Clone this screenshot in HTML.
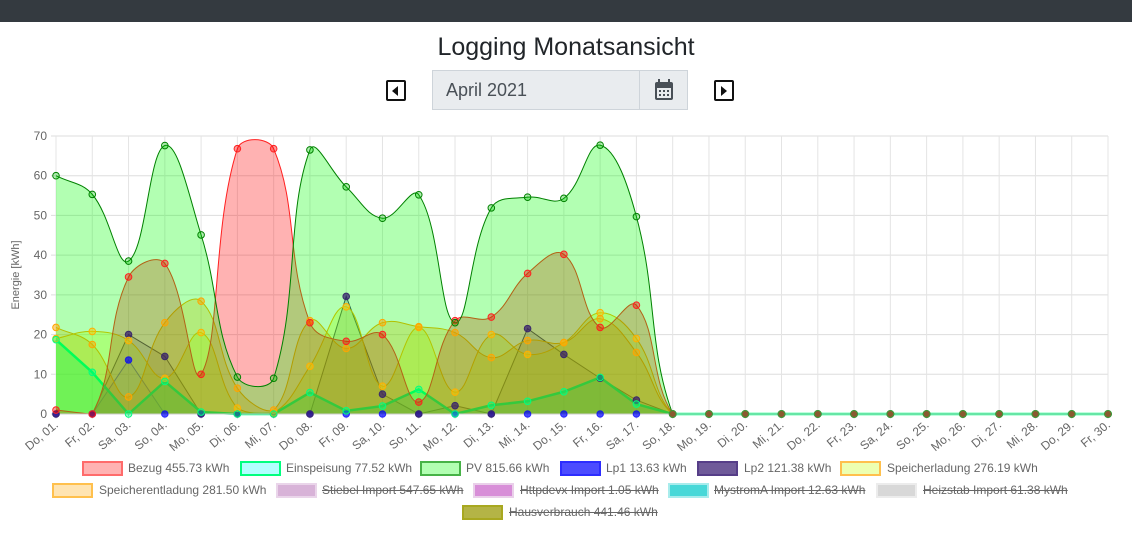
<!DOCTYPE html>
<html><head><meta charset="utf-8"><style>
body{margin:0;width:1132px;height:554px;background:#fff;font-family:"Liberation Sans",sans-serif;position:relative;overflow:hidden}
.top{position:absolute;left:0;top:0;width:1132px;height:22px;background:#343a40}
h1{position:absolute;left:0;width:1132px;top:33px;margin:0;text-align:center;font-size:25px;font-weight:500;color:#212529}
.inp{position:absolute;left:432px;top:70px;height:40px;background:#e9ecef;border:1px solid #ced4da;font-size:18px;color:#495057;line-height:38px;padding-left:13px;box-sizing:border-box;width:208px}
.cal{position:absolute;left:639px;top:70px;width:49px;height:40px;background:#e9ecef;border:1px solid #ced4da;box-sizing:border-box}
.btn{position:absolute;top:80px;width:16px;height:17px;border:2px solid #111;border-radius:2px}
.leg{position:absolute;font-size:12px;color:#666;white-space:nowrap;height:14px;line-height:14px}
.leg i{position:absolute;left:0;top:0;width:37px;height:11px;border:2px solid}
.leg span{position:absolute;top:0}
.s span{text-decoration:line-through}
</style></head><body>
<div class="top"></div>
<h1>Logging Monatsansicht</h1>
<div class="btn" style="left:386px"><div style="position:absolute;left:4px;top:4px;border-right:6px solid #111;border-top:5px solid transparent;border-bottom:5px solid transparent"></div></div>
<div class="inp">April 2021</div>
<div class="cal"><svg width="49" height="40"><rect x="15" y="11" width="18" height="18" rx="2" fill="#495057"/><rect x="17" y="17" width="14" height="10" fill="#e9ecef"/><rect x="18" y="8" width="2" height="5" fill="#495057"/><rect x="28" y="8" width="2" height="5" fill="#495057"/><g fill="#495057"><rect x="19" y="19" width="2" height="2"/><rect x="23" y="19" width="2" height="2"/><rect x="27" y="19" width="2" height="2"/><rect x="19" y="23" width="2" height="2"/><rect x="23" y="23" width="2" height="2"/><rect x="27" y="23" width="2" height="2"/></g></svg></div>
<div class="btn" style="left:714px"><div style="position:absolute;left:5px;top:4px;border-left:6px solid #111;border-top:5px solid transparent;border-bottom:5px solid transparent"></div></div>
<svg id="c" width="1132" height="554" style="position:absolute;left:0;top:0"></svg>
<div class="leg" style="left:82px;top:461px"><i style="background:rgba(255,0,0,.3);border-color:rgba(255,0,0,.4)"></i><span style="left:46px">Bezug 455.73 kWh</span></div>
<div class="leg" style="left:240px;top:461px"><i style="background:rgba(0,255,255,.3);border-color:#00ff7f"></i><span style="left:46px">Einspeisung 77.52 kWh</span></div>
<div class="leg" style="left:420px;top:461px"><i style="background:rgba(0,255,0,.3);border-color:rgba(0,128,0,.6)"></i><span style="left:46px">PV 815.66 kWh</span></div>
<div class="leg" style="left:560px;top:461px"><i style="background:rgba(0,0,255,.7);border-color:rgba(0,0,255,.4)"></i><span style="left:46px">Lp1 13.63 kWh</span></div>
<div class="leg" style="left:697px;top:461px"><i style="background:rgba(50,20,110,.7);border-color:rgba(50,20,110,.4)"></i><span style="left:47px">Lp2 121.38 kWh</span></div>
<div class="leg" style="left:840px;top:461px"><i style="background:rgba(220,255,100,.5);border-color:#ffc04d"></i><span style="left:47px">Speicherladung 276.19 kWh</span></div>
<div class="leg" style="left:52px;top:483px"><i style="background:rgba(255,165,0,.3);border-color:#ffc04d"></i><span style="left:47px">Speicherentladung 281.50 kWh</span></div>
<div class="leg s" style="left:276px;top:483px"><i style="background:#d8b3d8;border-color:#ead5ea"></i><span style="left:46px">Stiebel Import 547.65 kWh</span></div>
<div class="leg s" style="left:473px;top:483px"><i style="background:#d88ed8;border-color:#ead0ea"></i><span style="left:47px">Httpdevx Import 1.05 kWh</span></div>
<div class="leg s" style="left:668px;top:483px"><i style="background:#48d8d8;border-color:#a8ecec"></i><span style="left:46px">MystromA Import 12.63 kWh</span></div>
<div class="leg s" style="left:876px;top:483px"><i style="background:#d8d8d8;border-color:#ececec"></i><span style="left:47px">Heizstab Import 61.38 kWh</span></div>
<div class="leg s" style="left:462px;top:505px"><i style="background:#b4b446;border-color:#a8a820"></i><span style="left:47px">Hausverbrauch 441.46 kWh</span></div>
<script>
var X0=56,DX=1052/29,Y0=414,K=278/70;
var days=["Do","Fr","Sa","So","Mo","Di","Mi"];
var svg=document.getElementById('c'),h='';
for(var v=0;v<=70;v+=10){var y=Y0-v*K;h+='<line x1="51" x2="1108" y1="'+y+'" y2="'+y+'" stroke="#ddd"/>';h+='<text x="47" y="'+(y+4)+'" font-size="12" fill="#666" text-anchor="end">'+v+'</text>';}
for(var i=0;i<30;i++){var x=X0+i*DX;h+='<line x1="'+x+'" x2="'+x+'" y1="136" y2="419" stroke="#e4e4e4"/>';
var d=(i+1<10?'0':'')+(i+1);h+='<text font-size="12" fill="#666" text-anchor="end" transform="translate('+(x+3)+',426) rotate(-40)">'+days[i%7]+', '+d+'.</text>';}
h+='<text transform="translate(19,275) rotate(-90)" font-size="11" fill="#666" text-anchor="middle">Energie [kWh]</text>';
function pad(a){while(a.length<30)a.push(0);return a}
var S=[
{d:[0,0,13.6,0,0,0,0,0,0,0,0,0,0,0,0,0,0,0],f:'rgba(0,0,255,.08)',s:'rgba(0,0,255,.7)',p:'rgba(0,0,255,.7)',t:0},
{d:[0,0,20,14.5,0,0,0,0,29.6,5,0,2.1,0,21.5,15,9,3.5,0],f:'rgba(50,20,110,.15)',s:'#3a2a6a',p:'rgba(50,20,110,.7)',t:0},
{d:[19,20.8,18.5,9,20.5,1.5,0.3,12,27,7,21.8,5.5,20,15,18,25.5,19,0],f:'rgba(220,255,0,.3)',s:'#ffb000',p:'rgba(255,200,0,.5)'},
{d:[21.8,17.5,4.3,23,28.4,6.5,1,23.5,16.5,23,22,20.5,14.2,18.5,18,24,15.5,0],f:'rgba(255,165,0,.3)',s:'#ffa500',p:'rgba(255,165,0,.5)'},
{d:[18.7,10.5,0,8.2,0.5,0,0,5.4,0.8,2,6.2,0,2.2,3.2,5.6,9.2,2.5,0],f:'rgba(0,255,127,.35)',s:'#00ff7f',p:'rgba(0,255,127,.4)',w:2.5,t:0},
{d:[1,0,34.5,37.9,10,66.8,66.8,23,18.3,20,3,23.5,24.4,35.4,40.2,21.8,27.4,0],f:'rgba(255,0,0,.3)',s:'#ff2020',p:'rgba(255,0,0,.4)'},
{d:[60,55.3,38.5,67.6,45.1,9.3,9,66.5,57.2,49.3,55.2,23,51.9,54.6,54.3,67.7,49.7,0],f:'rgba(0,255,0,.3)',s:'#008000',p:'rgba(0,200,0,.3)'}
];
function dist(a,b){return Math.sqrt((a[0]-b[0])*(a[0]-b[0])+(a[1]-b[1])*(a[1]-b[1]))}
function path(pts,t){var cp=pts.map(function(b,i){var a=pts[i-1]||b,c=pts[i+1]||b;var d01=dist(a,b),d12=dist(b,c),s=d01+d12||1;var fa=d01/s,fb=d12/s;
var p=[b[0]-fa*t*(c[0]-a[0]),b[1]-fa*t*(c[1]-a[1])],n=[b[0]+fb*t*(c[0]-a[0]),b[1]+fb*t*(c[1]-a[1])];
p[1]=Math.max(136,Math.min(Y0,p[1]));n[1]=Math.max(136,Math.min(Y0,n[1]));return[p,n]});
var p='M'+pts[0][0]+','+pts[0][1];for(var i=0;i<pts.length-1;i++){var c1=cp[i][1],c2=cp[i+1][0],c=pts[i+1];p+=' C'+c1[0]+','+c1[1]+' '+c2[0]+','+c2[1]+' '+c[0]+','+c[1];}return p}
var pts2='';
S.forEach(function(s){var a=pad(s.d.slice());var pts=a.map(function(v,i){return[X0+i*DX,Y0-v*K]});var t=s.t===undefined?0.4:s.t;var p=path(pts,t);
h+='<path d="'+p+' L'+pts[29][0]+','+Y0+' L'+X0+','+Y0+'Z" fill="'+s.f+'"/>';h+='<path d="'+p+'" fill="none" stroke="'+s.s+'" stroke-width="'+(s.w||1)+'"/>';
pts.forEach(function(q,i){pts2+='<circle cx="'+q[0]+'" cy="'+q[1]+'" r="3.3" fill="'+s.p+'" stroke="'+s.s+'" stroke-width="1"/>';});});
for(var i=17;i<30;i++){pts2+='<circle cx="'+(X0+i*DX)+'" cy="'+Y0+'" r="3.5" fill="#8a5a30" stroke="#3c9c3c" stroke-width="1"/>';}
h+='<line x1="56" x2="1108" y1="414" y2="414" stroke="#ccc"/>';
svg.innerHTML=h+pts2;
</script>
</body></html>
